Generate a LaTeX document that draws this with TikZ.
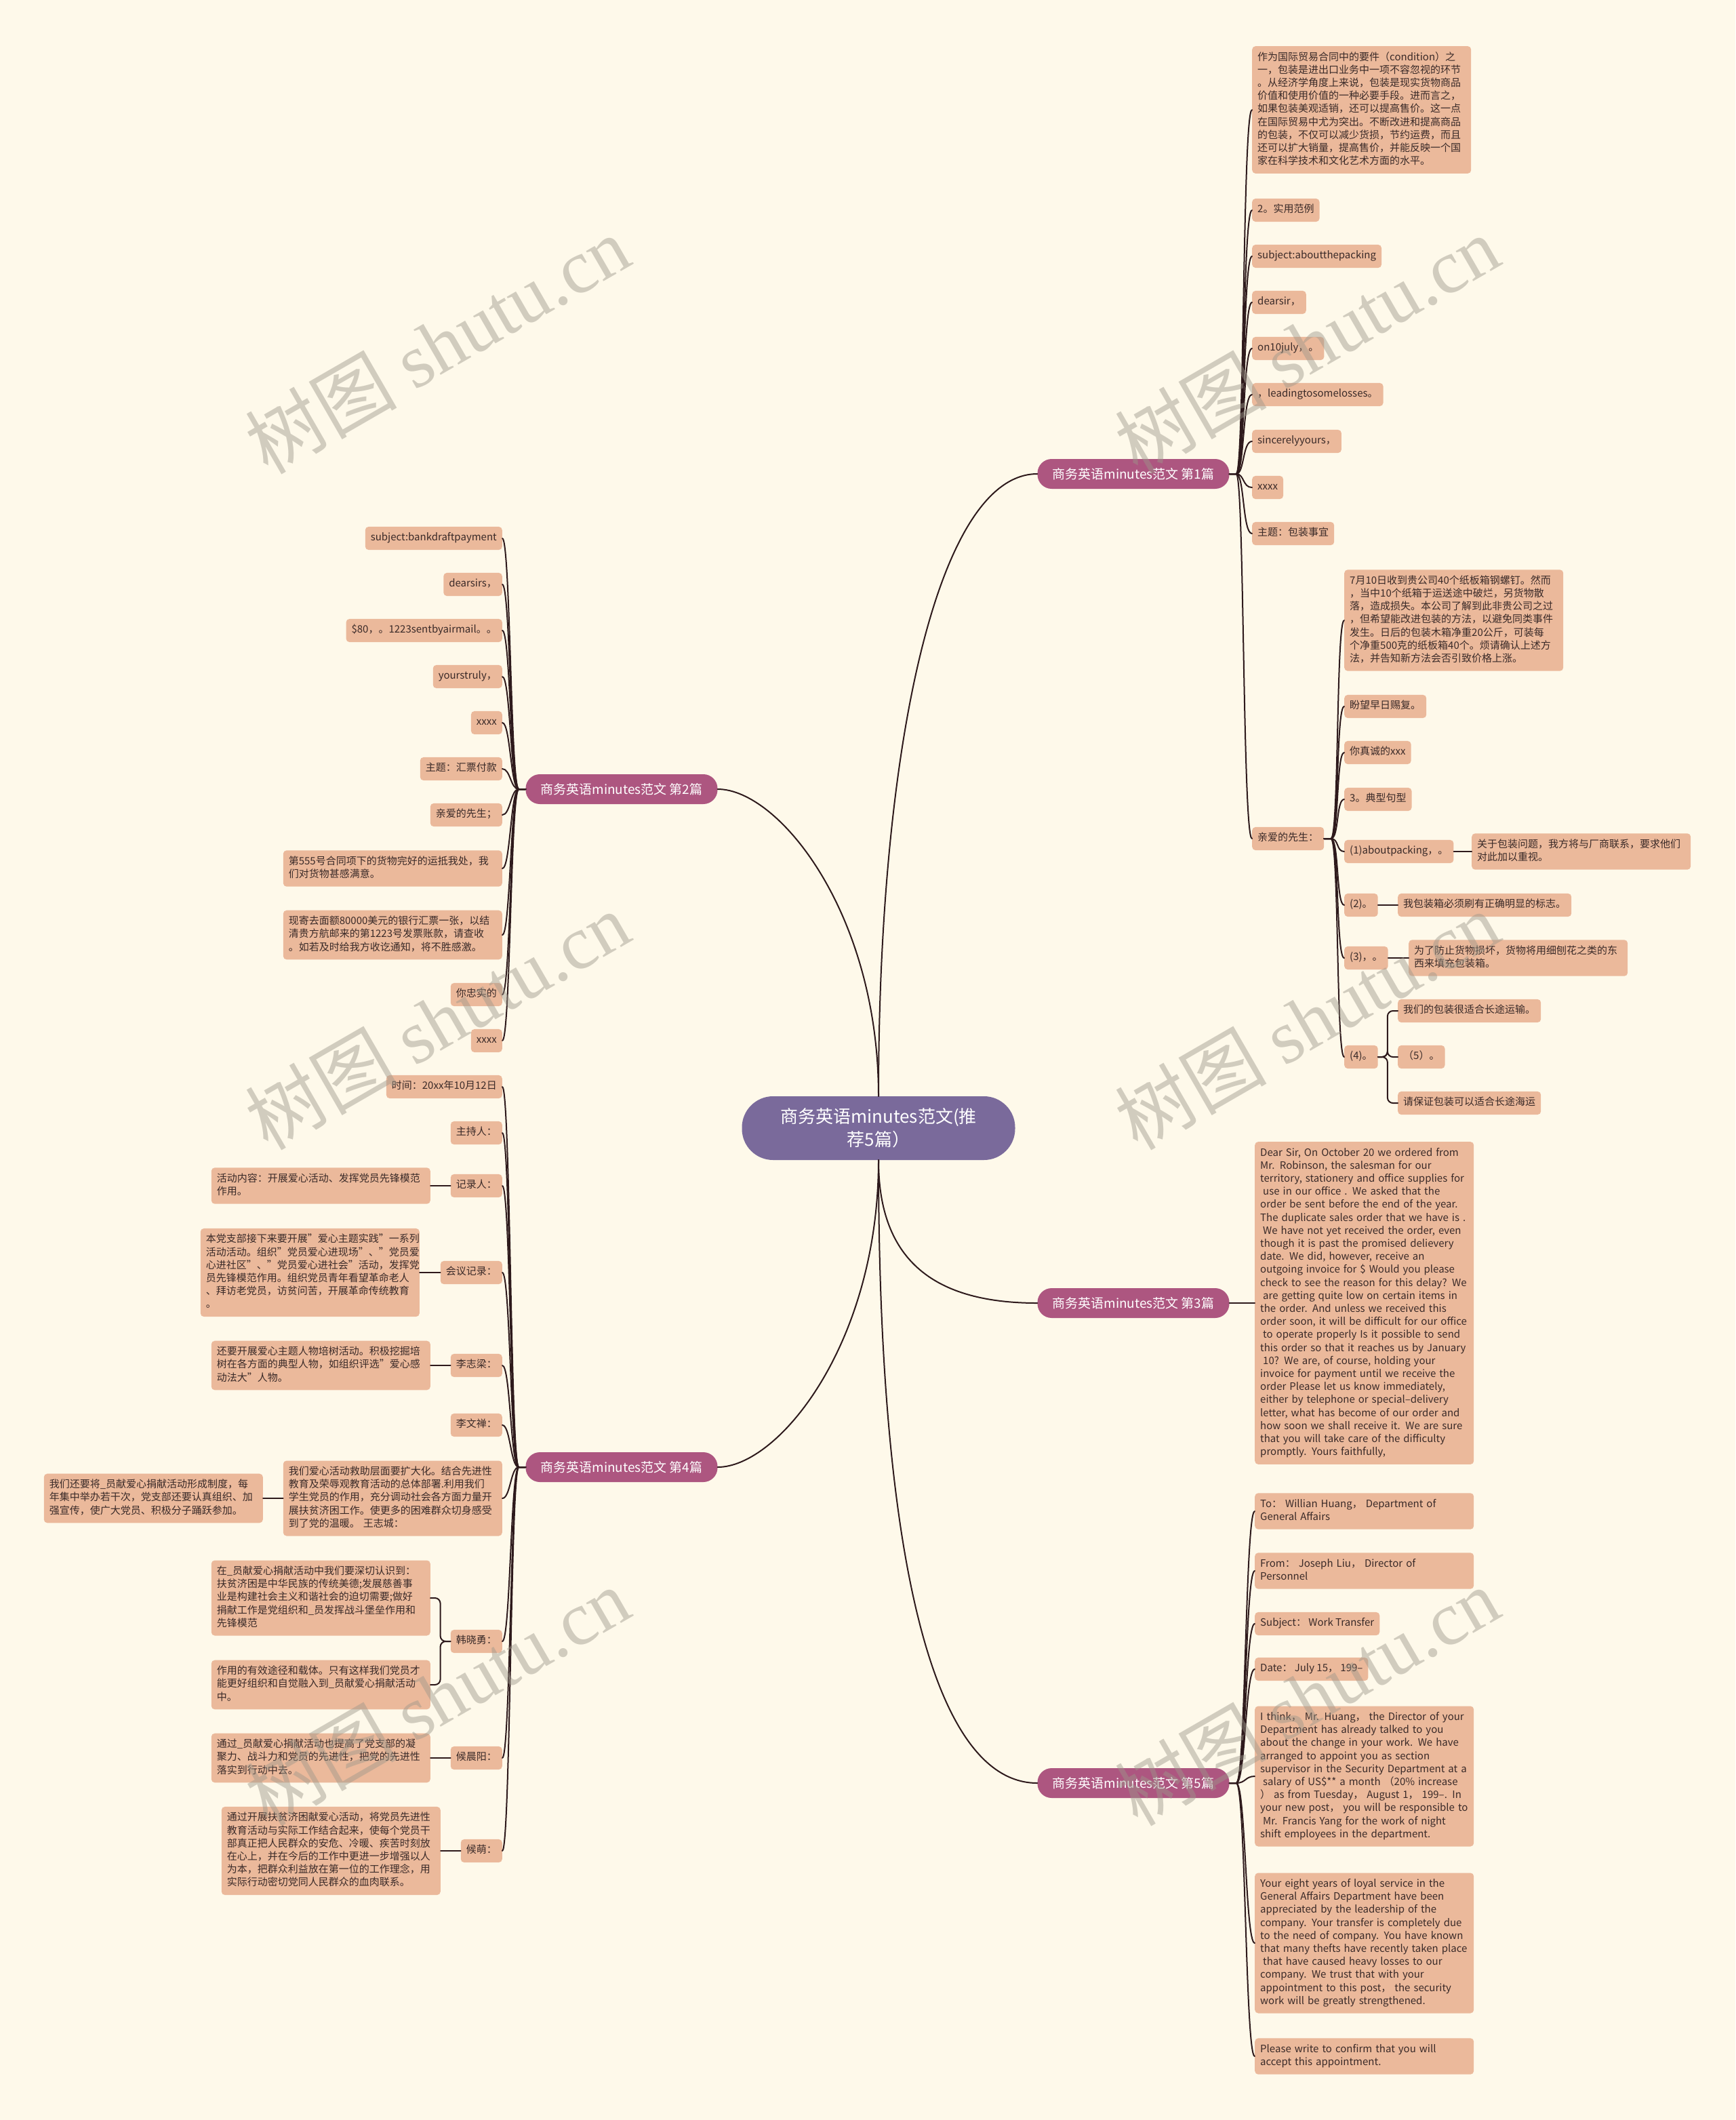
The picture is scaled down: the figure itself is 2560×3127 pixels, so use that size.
\documentclass[tikz,border=0pt]{standalone}
\usepackage{fontspec}
\setmainfont{Noto Sans CJK SC}
\newfontfamily\markfont{Liberation Serif}
\definecolor{bgc}{HTML}{FEF9EA}
\definecolor{leafc}{HTML}{EBB99B}
\definecolor{topicc}{HTML}{AD5680}
\definecolor{rootc}{HTML}{7A6A9B}
\definecolor{linec}{HTML}{2E1A1C}
\definecolor{inkc}{HTML}{3A2A28}
\definecolor{markc}{HTML}{9C978A}
\tikzset{
  leaf/.style={fill=leafc, rounded corners=5pt, inner xsep=8pt, inner ysep=7.5pt, text=inkc, align=left,
    font=\fontsize{15}{19.2}\selectfont, execute at begin node=\strut, execute at end node=\strut},
  wide/.style={leaf, text width=307pt},
  topic/.style={fill=topicc, text=white, rounded corners=21pt, minimum height=44pt, inner xsep=22pt,
    font=\fontsize{19}{22}\selectfont},
  root/.style={fill=rootc, text=white, rounded corners=46pt, minimum width=403pt, minimum height=94pt,
    align=center, font=\fontsize{26}{34}\selectfont},
  link/.style={draw=linec, line width=2pt},
  twig/.style={draw=linec, line width=2pt},
  wmark/.style={text=markc, opacity=0.45, rotate=30, font=\fontsize{112}{120}\selectfont},
}
\begin{document}
\begin{tikzpicture}[x=1pt, y=-1pt, line join=round, line cap=round]
\fill[bgc] (0,0) rectangle (2560,3127);
\useasboundingbox (0,0) rectangle (2560,3127);

\node[root] (root) at (1296,1664) {商务英语minutes范文(推\\荐5篇）};
\node[topic] (b1) at (1672,699) {商务英语minutes范文 第1篇};
\node[topic] (b2) at (917,1164) {商务英语minutes范文 第2篇};
\node[topic] (b3) at (1672,1922) {商务英语minutes范文 第3篇};
\node[topic] (b4) at (917,2164) {商务英语minutes范文 第4篇};
\node[topic] (b5) at (1672,2630) {商务英语minutes范文 第5篇};

\draw[link] (root.north) .. controls +(0,-517) and +(-147,0) .. (b1.west);
\draw[link] (root.north) .. controls +(0,-270) and +(90,0) .. (b2.east);
\draw[link] (root.south) .. controls +(0,150) and +(-150,0) .. (b3.west);
\draw[link] (root.south) .. controls +(0,270) and +(90,0) .. (b4.east);
\draw[link] (root.south) .. controls +(0,600) and +(-150,0) .. (b5.west);

% 第1篇
\node[wide, anchor=west] (a1) at (1847,162) {作为国际贸易合同中的要件（condition）之\\一，包装是进出口业务中一项不容忽视的环节\\。从经济学角度上来说，包装是现实货物商品\\价值和使用价值的一种必要手段。进而言之，\\如果包装美观适销，还可以提高售价。这一点\\在国际贸易中尤为突出。不断改进和提高商品\\的包装，不仅可以减少货损，节约运费，而且\\还可以扩大销量，提高售价，并能反映一个国\\家在科学技术和文化艺术方面的水平。};
\node[leaf, anchor=west] (a2) at (1847,310) {2。实用范例};
\node[leaf, anchor=west] (a3) at (1847,378) {subject:aboutthepacking};
\node[leaf, anchor=west] (a4) at (1847,446) {dearsir，};
\node[leaf, anchor=west] (a5) at (1847,514) {on10july，。};
\node[leaf, anchor=west] (a6) at (1847,582) {，leadingtosomelosses。};
\node[leaf, anchor=west] (a7) at (1847,651) {sincerelyyours，};
\node[leaf, anchor=west] (a8) at (1847,719) {xxxx};
\node[leaf, anchor=west] (a9) at (1847,787) {主题：包装事宜};
\node[leaf, anchor=west] (a10) at (1847,1237) {亲爱的先生：};
\foreach \n in {1,...,10}
  \draw[twig] (b1.east) -- ++(10,0) .. controls +(12,0) and +(-14,0) .. (a\n.west);

\node[wide, anchor=west] (k1) at (1983,915) {7月10日收到贵公司40个纸板箱钢螺钉。然而\\，当中10个纸箱于运送途中破烂，另货物散\\落，造成损失。本公司了解到此非贵公司之过\\，但希望能改进包装的方法，以避免同类事件\\发生。日后的包装木箱净重20公斤，可装每\\个净重500克的纸板箱40个。烦请确认上述方\\法，并告知新方法会否引致价格上涨。};
\node[leaf, anchor=west] (k2) at (1983,1042) {盼望早日赐复。};
\node[leaf, anchor=west] (k3) at (1983,1110) {你真诚的xxx};
\node[leaf, anchor=west] (k4) at (1983,1179) {3。典型句型};
\node[leaf, anchor=west] (k5) at (1983,1256) {(1)aboutpacking，。};
\node[leaf, anchor=west] (k6) at (1983,1335) {(2)。};
\node[leaf, anchor=west] (k7) at (1983,1413) {(3)，。};
\node[leaf, anchor=west] (k8) at (1983,1559) {(4)。};
\foreach \n in {1,...,8}
  \draw[twig] (a10.east) -- ++(10,0) .. controls +(12,0) and +(-12,0) .. (k\n.west);

\node[wide, anchor=west] (m5) at (2171,1256) {关于包装问题，我方将与厂商联系，要求他们\\对此加以重视。};
\node[leaf, anchor=west] (m6) at (2062,1335) {我包装箱必须刷有正确明显的标志。};
\node[wide, anchor=west] (m7) at (2078,1413) {为了防止货物损坏，货物将用细刨花之类的东\\西来填充包装箱。};
\node[leaf, anchor=west] (m8a) at (2062,1491) {我们的包装很适合长途运输。};
\node[leaf, anchor=west] (m8b) at (2062,1559) {（5）。};
\node[leaf, anchor=west] (m8c) at (2062,1627) {请保证包装可以适合长途海运};
\draw[twig] (k5) -- (m5);
\draw[twig] (k6) -- (m6);
\draw[twig] (k7) -- (m7);
\foreach \n in {m8a,m8b,m8c}
  \draw[twig, rounded corners=8pt] (k8.east) -- ++(14,0) |- (\n.west);

% 第3篇
\node[wide, anchor=west] (c1) at (1851,1922) {Dear Sir, On October 20 we ordered from\\Mr. Robinson, the salesman for our\\territory, stationery and office supplies for\\\hspace*{4pt}use in our office . We asked that the\\order be sent before the end of the year.\\The duplicate sales order that we have is .\\\hspace*{4pt}We have not yet received the order, even\\though it is past the promised delievery\\date. We did, however, receive an\\outgoing invoice for \$ Would you please\\check to see the reason for this delay? We\\\hspace*{4pt}are getting quite low on certain items in\\the order. And unless we received this\\order soon, it will be difficult for our office\\\hspace*{4pt}to operate properly Is it possible to send\\this order so that it reaches us by January\\\hspace*{4pt}10? We are, of course, holding your\\invoice for payment until we receive the\\order Please let us know immediately,\\either by telephone or special–delivery\\letter, what has become of our order and\\how soon we shall receive it. We are sure\\that you will take care of the difficulty\\promptly. Yours faithfully,};
\draw[twig] (b3) -- (c1);

% 第5篇
\node[wide, anchor=west] (e1) at (1851,2229) {To： Willian Huang， Department of\\General Affairs};
\node[wide, anchor=west] (e2) at (1851,2317) {From： Joseph Liu， Director of\\Personnel};
\node[leaf, anchor=west] (e3) at (1851,2395) {Subject： Work Transfer};
\node[leaf, anchor=west] (e4) at (1851,2462) {Date： July 15， 199–};
\node[wide, anchor=west] (e5) at (1851,2620) {I think， Mr. Huang， the Director of your\\Department has already talked to you\\about the change in your work. We have\\arranged to appoint you as section\\supervisor in the Security Department at a\\\hspace*{4pt}salary of US\$** a month （20\% increase\\） as from Tuesday， August 1， 199–. In\\your new post， you will be responsible to\\\hspace*{4pt}Mr. Francis Yang for the work of night\\shift employees in the department.};
\node[wide, anchor=west] (e6) at (1851,2866) {Your eight years of loyal service in the\\General Affairs Department have been\\appreciated by the leadership of the\\company. Your transfer is completely due\\to the need of company. You have known\\that many thefts have recently taken place\\\hspace*{4pt}that have caused heavy losses to our\\company. We trust that with your\\appointment to this post， the security\\work will be greatly strengthened.};
\node[wide, anchor=west] (e7) at (1851,3033) {Please write to confirm that you will\\accept this appointment.};
\foreach \n in {1,...,7}
  \draw[twig] (b5.east) -- ++(10,0) .. controls +(14,0) and +(-14,0) .. (e\n.west);

% 第2篇
\node[leaf, anchor=east] (l1) at (741,794) {subject:bankdraftpayment};
\node[leaf, anchor=east] (l2) at (741,862) {dearsirs，};
\node[leaf, anchor=east] (l3) at (741,930) {\$80，。1223sentbyairmail。。};
\node[leaf, anchor=east] (l4) at (741,998) {yourstruly，};
\node[leaf, anchor=east] (l5) at (741,1066) {xxxx};
\node[leaf, anchor=east] (l6) at (741,1134) {主题：汇票付款};
\node[leaf, anchor=east] (l7) at (741,1202) {亲爱的先生；};
\node[wide, anchor=east] (l8) at (741,1281) {第555号合同项下的货物完好的运抵我处，我\\们对货物甚感满意。};
\node[wide, anchor=east] (l9) at (741,1379) {现寄去面额80000美元的银行汇票一张，以结\\清贵方航邮来的第1223号发票账款，请查收\\。如若及时给我方收讫通知，将不胜感激。};
\node[leaf, anchor=east] (l10) at (741,1467) {你忠实的};
\node[leaf, anchor=east] (l11) at (741,1535) {xxxx};
\foreach \n in {1,...,11}
  \draw[twig] (b2.west) -- ++(-10,0) .. controls +(-12,0) and +(12,0) .. (l\n.east);

% 第4篇
\node[leaf, anchor=east] (f1) at (741,1603) {时间：20xx年10月12日};
\node[leaf, anchor=east] (f2) at (741,1671) {主持人：};
\node[leaf, anchor=east] (f3) at (741,1749) {记录人：};
\node[leaf, anchor=east] (f4) at (741,1877) {会议记录：};
\node[leaf, anchor=east] (f5) at (741,2014) {李志梁：};
\node[leaf, anchor=east] (f6) at (741,2102) {李文禅：};
\node[wide, anchor=east] (f7) at (741,2210) {我们爱心活动救助层面要扩大化。结合先进性\\教育及荣辱观教育活动的总体部署.利用我们\\学生党员的作用，充分调动社会各方面力量开\\展扶贫济困工作。使更多的困难群众切身感受\\到了党的温暖。 王志城：};
\node[leaf, anchor=east] (f8) at (741,2421) {韩晓勇：};
\node[leaf, anchor=east] (f9) at (741,2593) {候晨阳：};
\node[leaf, anchor=east] (f10) at (741,2730) {候萌：};
\foreach \n in {1,...,10}
  \draw[twig] (b4.west) -- ++(-10,0) .. controls +(-12,0) and +(12,0) .. (f\n.east);

\node[wide, anchor=east] (g3) at (635,1749) {活动内容：开展爱心活动、发挥党员先锋模范\\作用。};
\node[wide, anchor=east] (g4) at (619,1877) {本党支部接下来要开展"爱心主题实践"一系列\\活动活动。组织"党员爱心进现场"、"党员爱\\心进社区"、"党员爱心进社会"活动，发挥党\\员先锋模范作用。组织党员青年看望革命老人\\、拜访老党员，访贫问苦，开展革命传统教育\\。};
\node[wide, anchor=east] (g5) at (635,2014) {还要开展爱心主题人物培树活动。积极挖掘培\\树在各方面的典型人物，如组织评选"爱心感\\动法大"人物。};
\node[wide, anchor=east] (g7) at (388,2210) {我们还要将\_员献爱心捐献活动形成制度，每\\年集中举办若干次，党支部还要认真组织、加\\强宣传，使广大党员、积极分子踊跃参加。};
\node[wide, anchor=east] (g8a) at (635,2357) {在\_员献爱心捐献活动中我们要深切认识到：\\扶贫济困是中华民族的传统美德;发展慈善事\\业是构建社会主义和谐社会的迫切需要;做好\\捐献工作是党组织和\_员发挥战斗堡垒作用和\\先锋模范};
\node[wide, anchor=east] (g8b) at (635,2485) {作用的有效途径和载体。只有这样我们党员才\\能更好组织和自觉融入到\_员献爱心捐献活动\\中。};
\node[wide, anchor=east] (g9) at (635,2593) {通过\_员献爱心捐献活动也提高了党支部的凝\\聚力、战斗力和党员的先进性，把党的先进性\\落实到行动中去。};
\node[wide, anchor=east] (g10) at (650,2730) {通过开展扶贫济困献爱心活动，将党员先进性\\教育活动与实际工作结合起来，使每个党员干\\部真正把人民群众的安危、冷暖、疾苦时刻放\\在心上，并在今后的工作中更进一步增强以人\\为本，把群众利益放在第一位的工作理念，用\\实际行动密切党同人民群众的血肉联系。};
\draw[twig] (f3) -- (g3);
\draw[twig] (f4) -- (g4);
\draw[twig] (f5) -- (g5);
\draw[twig] (f7) -- (g7);
\draw[twig] (f9) -- (g9);
\draw[twig] (f10) -- (g10);
\foreach \n in {g8a,g8b}
  \draw[twig, rounded corners=8pt] (f8.west) -- ++(-15,0) |- (\n.east);

% watermarks
\foreach \x/\y in {645/508, 1928/508, 645/1505, 1928/1505, 645/2502, 1928/2502}
  \node[wmark] at (\x,\y) {树图 {\markfont shutu.cn}};
\end{tikzpicture}
\end{document}
